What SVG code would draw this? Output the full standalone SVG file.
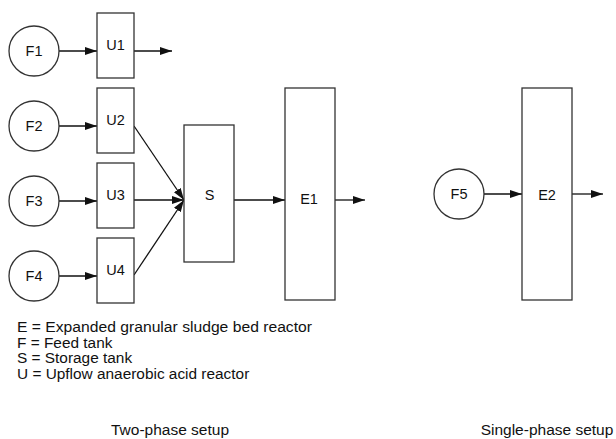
<svg xmlns="http://www.w3.org/2000/svg" width="616" height="439" viewBox="0 0 616 439">
<defs>
<style>
.n{fill:#fff;stroke:#333;stroke-width:1.3}
.t{font-family:"Liberation Sans",Arial,sans-serif;font-size:14.5px;fill:#111;text-anchor:middle}
.l{font-family:"Liberation Sans",Arial,sans-serif;font-size:15.4px;fill:#111}
.b{font-family:"Liberation Sans",Arial,sans-serif;font-size:15.5px;fill:#111;text-anchor:middle}
.c{fill:none;stroke:#111;stroke-width:1.3;marker-end:url(#ah)}
</style>
<marker id="ah" viewBox="0 0 12 8" refX="12" refY="4" markerWidth="12" markerHeight="8" markerUnits="userSpaceOnUse" orient="auto">
<path d="M0,0 L12,4 L0,8 Z" fill="#111"/>
</marker>
</defs>
<rect width="616" height="439" fill="#fff"/>
<g id="connectors">
<line class="c" x1="59" y1="51" x2="97" y2="51"/>
<line class="c" x1="134" y1="51" x2="172" y2="51"/>
<line class="c" x1="59" y1="126" x2="97" y2="126"/>
<line class="c" x1="59" y1="201" x2="97" y2="201"/>
<line class="c" x1="59" y1="276" x2="97" y2="276"/>
<line class="c" x1="134" y1="126" x2="184" y2="200"/>
<line class="c" x1="134" y1="200" x2="184" y2="200"/>
<line class="c" x1="134" y1="275" x2="184" y2="200"/>
<line class="c" x1="234" y1="200" x2="285" y2="200"/>
<line class="c" x1="335" y1="200" x2="365" y2="200"/>
<line class="c" x1="484" y1="194" x2="522" y2="194"/>
<line class="c" x1="572" y1="194" x2="603" y2="194"/>
</g>
<g id="F1"><circle class="n" cx="34" cy="51" r="25"/><text class="t" x="34" y="56">F1</text></g>
<g id="F2"><circle class="n" cx="34" cy="126" r="25"/><text class="t" x="34" y="131">F2</text></g>
<g id="F3"><circle class="n" cx="34" cy="201" r="25"/><text class="t" x="34" y="206">F3</text></g>
<g id="F4"><circle class="n" cx="34" cy="276" r="25"/><text class="t" x="34" y="281">F4</text></g>
<g id="U1"><rect class="n" x="97" y="13" width="37" height="65"/><text class="t" x="115.5" y="50">U1</text></g>
<g id="U2"><rect class="n" x="97" y="88" width="37" height="65"/><text class="t" x="115.5" y="125">U2</text></g>
<g id="U3"><rect class="n" x="97" y="163" width="37" height="65"/><text class="t" x="115.5" y="200">U3</text></g>
<g id="U4"><rect class="n" x="97" y="238" width="37" height="65"/><text class="t" x="115.5" y="275">U4</text></g>
<g id="S"><rect class="n" x="184" y="125" width="50" height="137"/><text class="t" x="209.5" y="199.5">S</text></g>
<g id="E1"><rect class="n" x="285" y="88" width="50" height="212"/><text class="t" x="309" y="204">E1</text></g>
<g id="F5"><circle class="n" cx="459" cy="194" r="25"/><text class="t" x="459" y="199">F5</text></g>
<g id="E2"><rect class="n" x="522" y="88" width="50" height="212"/><text class="t" x="547" y="200">E2</text></g>
<g id="legend">
<text class="l" x="17" y="332" textLength="295" lengthAdjust="spacingAndGlyphs">E = Expanded granular sludge bed reactor</text>
<text class="l" x="17" y="347.5">F = Feed tank</text>
<text class="l" x="17" y="363">S = Storage tank</text>
<text class="l" x="17" y="378.5">U = Upflow anaerobic acid reactor</text>
<text class="b" x="170" y="435">Two-phase setup</text>
<text class="b" x="547" y="435">Single-phase setup</text>
</g>
</svg>
